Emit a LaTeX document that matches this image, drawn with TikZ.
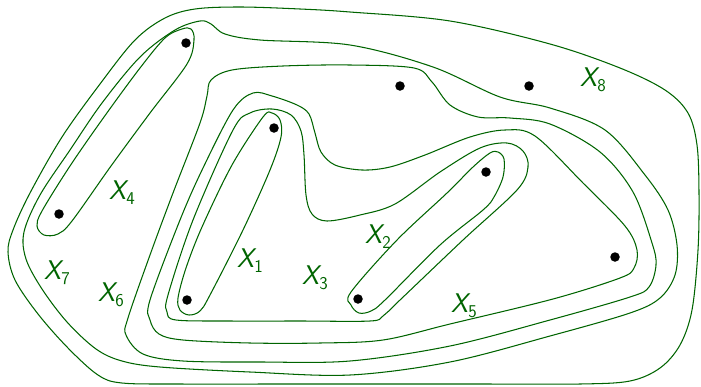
\documentclass[tikz,border=0pt]{standalone}
\usepackage{fontspec}
\definecolor{setgreen}{RGB}{0,100,0}
\newcommand\setlabel[1]{\fontsize{27}{30}\selectfont\sffamily\itshape X\kern0.5pt\raisebox{-5pt}{\fontsize{18}{20}\selectfont\upshape #1}}
\tikzset{
  setcurve/.style={draw=setgreen, line width=1.05pt},
  pointdot/.style={circle, fill=black, inner sep=0pt, minimum size=9.5pt},
  setname/.style={text=setgreen, inner sep=0pt}
}
\begin{document}
\begin{tikzpicture}[x=1pt,y=-1pt]
\useasboundingbox (0,0) rectangle (701,386);
% X_4 loop
\draw[setcurve] plot[smooth cycle, tension=0.55] coordinates {
 (182,29) (191,29) (194,40) (187,64) (150,113) (111,166) (72,221) (58,234) (44,235) (37,226) (42,211) (70,166) (104,117) (140,68) (165,38)};
% X_1 loop
\draw[setcurve] plot[smooth cycle, tension=0.55] coordinates {
 (263,117) (272,113) (280,120) (281,137) (270,170) (243,230) (210,295) (200,311) (189,315) (180,310) (178,298) (186,268) (202,227) (232,165)};
% X_2 loop
\draw[setcurve] plot[smooth cycle, tension=0.55] coordinates {
 (490,153) (498,152) (504,159) (503,177) (494,197) (483,210) (440,245) (385,300) (371,311) (359,313) (351,305) (351,292) (397,240) (447,193) (473,167)};
% X_3
\draw[setcurve] plot[smooth cycle, tension=0.55] coordinates {
 (272,109) (291,115) (301,131) (304,155) (306,195) (312,214) (327,221) (360,215) (395,204) (440,172) (480,148) (507,143) (523,151) (528,167) (517,190) (463,240) (400,300) (383,316) (370,321) (300,321) (230,321) (176,320) (167,312) (168,295) (193,220) (233,130) (250,113)};
% X_5
\draw[setcurve] plot[smooth cycle, tension=0.55] coordinates {
 (253,93) (272,96) (297,105) (309,114) (315,133) (321,152) (335,165) (362,170) (390,167) (425,155) (470,137) (505,130) (535,136) (583,183) (625,226) (637,250) (634,268) (620,278) (553,299) (450,324) (383,340) (320,343) (250,343) (183,340) (159,334) (150,320) (150,300) (180,220) (203,168) (233,110)};
% X_6
\draw[setcurve] plot[smooth cycle, tension=0.55] coordinates {
 (211,80) (232,70) (283,66) (350,65) (414,68) (432,82) (450,105) (478,117) (510,118) (550,124) (600,152) (633,192) (652,243) (656,265) (649,287) (630,297) (550,320) (450,346) (350,361) (260,362) (183,361) (143,354) (126,335) (128,318) (150,255) (173,193) (200,123) (207,96)};
% X_7
\draw[setcurve] plot[smooth cycle, tension=0.55] coordinates {
 (70,150) (102,103) (140,57) (175,30) (200,21) (211,24) (225,34) (260,40) (350,45) (433,67) (500,97) (550,108) (605,130) (645,175) (668,210) (677,245) (675,275) (660,298) (630,313) (550,336) (450,362) (350,375) (250,372) (160,367) (122,361) (96,349) (67,322) (42,289) (26,259) (24,232) (40,195)};
% X_8
\draw[setcurve] plot[smooth cycle, tension=0.55] coordinates {
 (100,84) (135,40) (165,18) (195,9) (240,7) (300,9) (350,12) (450,21) (550,44) (620,68) (665,90) (688,113) (697,145) (699,193) (698,250) (692,310) (680,345) (660,368) (630,381) (580,384) (480,384) (380,384) (280,384) (180,384) (122,383) (98,375) (68,348) (38,314) (15,280) (8,252) (13,230) (30,193) (62,137)};
% points
\node[pointdot] (p1) at (186,43) {};
\node[pointdot] (p2) at (59,214) {};
\node[pointdot] (p3) at (274,128) {};
\node[pointdot] (p4) at (187,300) {};
\node[pointdot] (p5) at (400,86) {};
\node[pointdot] (p6) at (529,86) {};
\node[pointdot] (p7) at (486,172) {};
\node[pointdot] (p8) at (358,299) {};
\node[pointdot] (p9) at (615,257) {};
% labels
\node[setname] (l8) at (593,80) {\setlabel{8}};
\node[setname] (l4) at (122,193) {\setlabel{4}};
\node[setname] (l7) at (57,273) {\setlabel{7}};
\node[setname] (l6) at (111,295) {\setlabel{6}};
\node[setname] (l1) at (250,261) {\setlabel{1}};
\node[setname] (l3) at (315,278) {\setlabel{3}};
\node[setname] (l2) at (378,237) {\setlabel{2}};
\node[setname] (l5) at (464,306) {\setlabel{5}};
\end{tikzpicture}
\end{document}
